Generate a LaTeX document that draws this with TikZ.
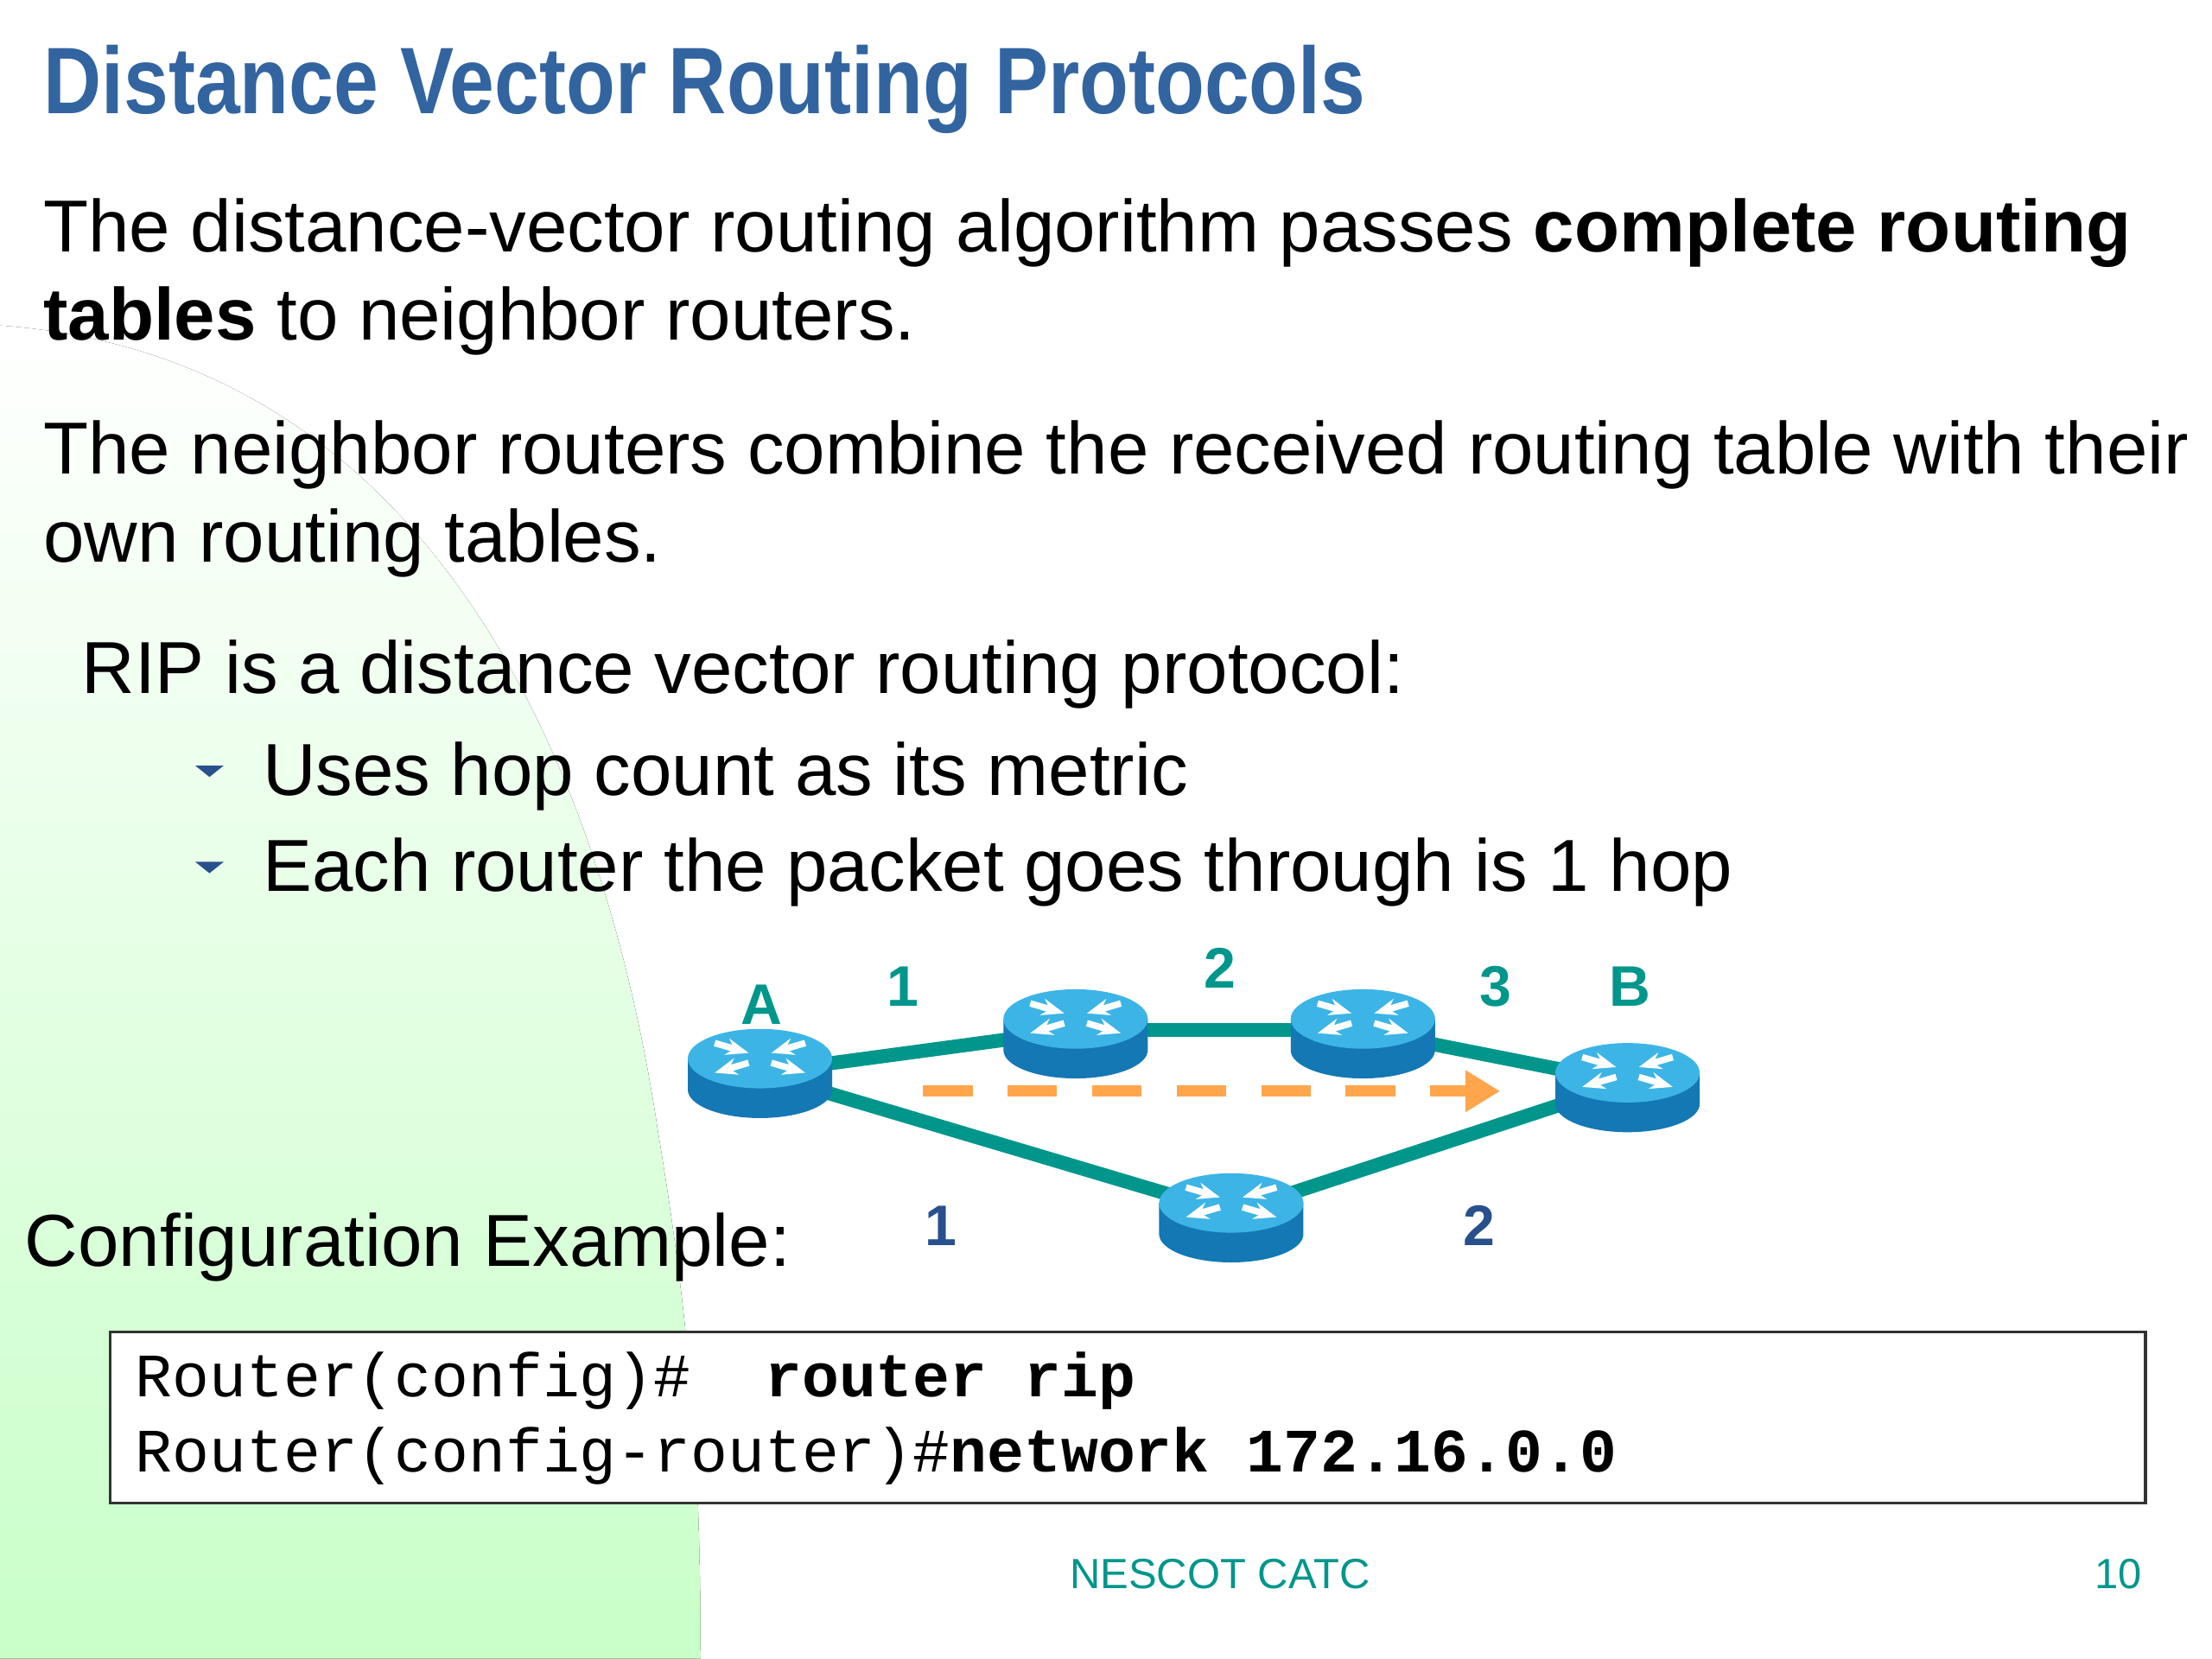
\documentclass[tikz,border=0pt]{standalone}
\usepackage{fontspec}
\setmainfont{Liberation Sans}
\newfontfamily\monof{Liberation Mono}
\usetikzlibrary{arrows.meta}
\definecolor{teal1}{RGB}{0,150,140}
\definecolor{titleblue}{RGB}{50,100,160}
\definecolor{lblue}{RGB}{40,80,140}
\definecolor{bggreen}{RGB}{200,255,200}
\definecolor{rtop}{RGB}{60,180,230}
\definecolor{rbody}{RGB}{20,120,180}
\tikzset{
 body/.style={anchor=base west,inner sep=0pt,font=\fontsize{14.8}{18}\selectfont},
 hop/.style={text=teal1,font=\bfseries\fontsize{11.5}{13}\selectfont},
 link/.style={teal1,line width=2.8pt},
 code/.style={anchor=base west,inner sep=0pt,font=\monof\fontsize{12.4}{14}\selectfont}
}
\newcommand{\myrouter}[3]{%
 \fill[rbody] (#2-51,#3-10) -- (#2-51,#3+12) arc[start angle=180,end angle=0,x radius=51,y radius=20] -- (#2+51,#3-10) -- cycle;
 \fill[rtop] (#2,#3-10) ellipse[x radius=51,y radius=21];
 \draw[white,line width=1.3pt,-{Stealth[length=4.5pt]}] (#2-32,#3-21)--(#2-8,#3-14);
 \draw[white,line width=1.3pt,-{Stealth[length=4.5pt]}] (#2+32,#3-21)--(#2+8,#3-14);
 \draw[white,line width=1.3pt,-{Stealth[length=4.5pt]}] (#2-8,#3-7)--(#2-32,#3);
 \draw[white,line width=1.3pt,-{Stealth[length=4.5pt]}] (#2+8,#3-7)--(#2+32,#3);
 \node[inner sep=0pt,minimum width=102,minimum height=64] (#1) at (#2,#3) {};
}
\begin{document}
\begin{tikzpicture}[x=0.01cm,y=-0.01cm]
\useasboundingbox (0,0) rectangle (1563,1172);
\fill[top color=white,bottom color=bggreen,middle color=bggreen!50]
 (0,230) .. controls (280,250) and (420,500) .. (465,800) .. controls (490,950) and (495,1050) .. (495,1172) -- (0,1172) -- cycle;
\node[anchor=base west,inner sep=0pt,text=titleblue,font=\bfseries\fontsize{19}{22}\selectfont] (title) at (30,80) {\scalebox{0.85}[1]{Distance Vector Routing Protocols}};
\node[body] (p1a) at (30,178) {The distance-vector routing algorithm passes \textbf{complete routing}};
\node[body] (p1b) at (30,240) {\textbf{tables} to neighbor routers.};
\node[body] (p2a) at (30,335) {The neighbor routers combine the received routing table with their};
\node[body] (p2b) at (30,397) {own routing tables.};
\node[body] (rip) at (57,490) {RIP is a distance vector routing protocol:};
\node[body] (b1) at (185,562) {Uses hop count as its metric};
\node[body] (b2) at (185,630) {Each router the packet goes through is 1 hop};
\fill[lblue] (138,541) -- (158,541) -- (148,549) -- cycle;
\fill[lblue] (138,609) -- (158,609) -- (148,617) -- cycle;
\node[body] (cfg) at (17,895) {Configuration Example:};
\coordinate (pA) at (537,758); \coordinate (p2) at (760,728); \coordinate (p3) at (963,728);
\coordinate (pB) at (1150,765); \coordinate (p4) at (870,857);
\draw[link] (pA)--(p2); \draw[link] (p2)--(p3); \draw[link] (p3)--(pB);
\draw[link] (pA)--(p4); \draw[link] (p4)--(pB);
\myrouter{rA}{537}{758}
\myrouter{r2}{760}{730}
\myrouter{r3}{963}{730}
\myrouter{rB}{1150}{768}
\myrouter{r4}{870}{860}
\coordinate (ds) at (652,771); \coordinate (de) at (1060,771);
\draw[orange!70!white,line width=2.3pt,dash pattern=on 10pt off 7pt,-{Triangle[length=7pt,width=8pt]}] (ds)--(de);
\node[hop] (lA) at (538,710) {A};
\node[hop] (l1) at (638,697) {1};
\node[hop] (l2) at (862,684) {2};
\node[hop] (l3) at (1057,697) {3};
\node[hop] (lB) at (1152,697) {B};
\node[hop,text=lblue] (l1b) at (665,866) {1};
\node[hop,text=lblue] (l2b) at (1045,866) {2};
\draw[fill=white,draw=black!80,line width=0.6pt] (78,941) rectangle (1516,1062);
\node[code] (c1) at (95,987) {Router(config)\#\ \ \textbf{router rip}};
\node[code] (c2) at (95,1040) {Router(config-router)\#\textbf{network 172.16.0.0}};
\node[text=teal1,font=\fontsize{8.5}{10}\selectfont] (foot) at (862,1112) {NESCOT CATC};
\node[text=teal1,font=\fontsize{8.5}{10}\selectfont] (pg) at (1497,1112) {10};
\end{tikzpicture}
\end{document}
